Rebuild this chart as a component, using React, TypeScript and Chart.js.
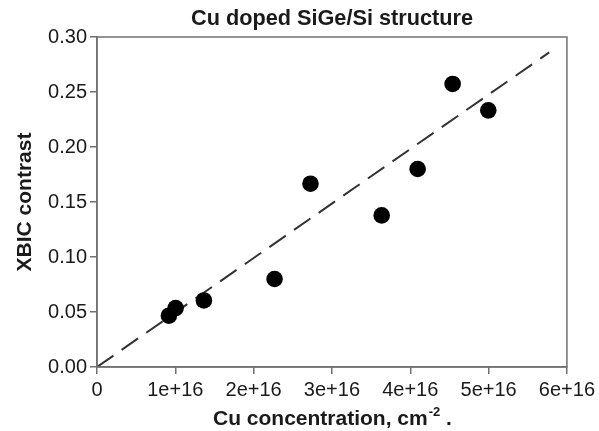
import React, { useEffect, useRef } from "react";
import { Chart, registerables } from "chart.js";

Chart.register(...registerables);

const titleText = "Cu doped SiGe/Si structure";
const yTitleText = "XBIC contrast";
const xTitleMain = "Cu concentration, cm";
const xTitleSup = "-2";
const xTitleEnd = " .";

const concentration = [0.918e16, 1.004e16, 1.365e16, 2.267e16, 2.726e16, 3.635e16, 4.094e16, 4.541e16, 4.996e16];
const contrast = [0.0466, 0.0536, 0.0605, 0.080, 0.1666, 0.1378, 0.180, 0.2573, 0.2333];

const fitX = [0, 5.774e16];
const fitY = [0, 0.286];

const xTicks = [0, 1e16, 2e16, 3e16, 4e16, 5e16, 6e16];
const xTickLabels = ["0", "1e+16", "2e+16", "3e+16", "4e+16", "5e+16", "6e+16"];
const yTickLabels = ["0.00", "0.05", "0.10", "0.15", "0.20", "0.25", "0.30"];

const FONT = "'Liberation Sans', Arial, Helvetica, sans-serif";
const AXIS_COLOR = "#707070";
const TEXT_COLOR = "#1a1a1a";

const decorPlugin = {
  id: "decor",
  afterDraw(chart: any) {
    const { ctx, chartArea } = chart;
    const cx = (chartArea.left + chartArea.right) / 2;
    ctx.save();
    // frame
    ctx.strokeStyle = AXIS_COLOR;
    ctx.lineWidth = 1.5;
    ctx.strokeRect(chartArea.left, chartArea.top, chartArea.right - chartArea.left, chartArea.bottom - chartArea.top);
    ctx.fillStyle = TEXT_COLOR;
    // main title
    ctx.font = `bold 21.7px ${FONT}`;
    ctx.textAlign = "center";
    ctx.textBaseline = "alphabetic";
    ctx.fillText(titleText, cx, 25);
    // x title with superscript
    const mainFont = `bold 21px ${FONT}`;
    const supFont = `bold 13px ${FONT}`;
    ctx.font = mainFont;
    const w1 = ctx.measureText(xTitleMain).width;
    const w3 = ctx.measureText(xTitleEnd).width;
    ctx.font = supFont;
    const w2 = ctx.measureText(xTitleSup).width;
    let x = cx - (w1 + w2 + w3) / 2;
    const base = 425;
    ctx.textAlign = "left";
    ctx.font = mainFont;
    ctx.fillText(xTitleMain, x, base);
    x += w1;
    ctx.font = supFont;
    ctx.fillText(xTitleSup, x + 1, base - 9);
    x += w2 + 1;
    ctx.font = mainFont;
    ctx.fillText(xTitleEnd, x, base);
    // y title
    ctx.translate(31, (chartArea.top + chartArea.bottom) / 2);
    ctx.rotate(-Math.PI / 2);
    ctx.textAlign = "center";
    ctx.font = mainFont;
    ctx.fillText(yTitleText, 0, 0);
    ctx.restore();
  },
};

export default function App() {
  const ref = useRef<HTMLCanvasElement>(null);
  useEffect(() => {
    document.body.style.margin = "0";
    const canvas = ref.current;
    if (!canvas) return;
    const chart = new Chart(canvas, {
      type: "scatter",
      data: {
        datasets: [
          {
            label: "data",
            data: concentration.map((c, i) => ({ x: c, y: contrast[i] })),
            backgroundColor: "#000000",
            borderColor: "#000000",
            pointRadius: 8.3,
            pointHoverRadius: 8.3,
            borderWidth: 0,
          },
          {
            label: "fit",
            type: "line",
            data: fitX.map((c, i) => ({ x: c, y: fitY[i] })),
            borderColor: "#333333",
            borderWidth: 2,
            borderDash: [20, 10],
            pointRadius: 0,
            fill: false,
          } as any,
        ],
      },
      options: {
        responsive: false,
        animation: false,
        events: [],
        layout: { padding: { top: 37, right: 31, left: 0, bottom: 0 } },
        plugins: {
          legend: { display: false },
          title: { display: false },
          tooltip: { enabled: false },
        },
        scales: {
          x: {
            type: "linear",
            min: 0,
            max: 6e16,
            afterBuildTicks: (scale: any) => {
              scale.ticks = xTicks.map((v) => ({ value: v }));
            },
            afterFit: (scale: any) => {
              scale.height = 64;
            },
            ticks: {
              autoSkip: false,
              maxRotation: 0,
              padding: 4,
              color: TEXT_COLOR,
              font: { family: FONT, size: 20 },
              callback: (v: any) => {
                const i = xTicks.indexOf(Number(v));
                return i >= 0 ? xTickLabels[i] : "";
              },
            },
            grid: {
              drawOnChartArea: false,
              drawTicks: true,
              tickLength: 7,
              color: AXIS_COLOR,
              lineWidth: 1.5,
            },
            border: { display: true, color: AXIS_COLOR, width: 1.5 },
          },
          y: {
            type: "linear",
            min: 0,
            max: 0.3,
            afterBuildTicks: (scale: any) => {
              scale.ticks = yTickLabels.map((t) => ({ value: parseFloat(t) }));
            },
            afterFit: (scale: any) => {
              scale.width = 97;
            },
            ticks: {
              autoSkip: false,
              padding: 3,
              color: TEXT_COLOR,
              font: { family: FONT, size: 20 },
              callback: (v: any) => {
                const i = yTickLabels.findIndex((t) => Math.abs(parseFloat(t) - Number(v)) < 1e-9);
                return i >= 0 ? yTickLabels[i] : "";
              },
            },
            grid: {
              drawOnChartArea: false,
              drawTicks: true,
              tickLength: 7,
              color: AXIS_COLOR,
              lineWidth: 1.5,
            },
            border: { display: true, color: AXIS_COLOR, width: 1.5 },
          },
        },
      },
      plugins: [decorPlugin],
    });
    return () => chart.destroy();
  }, []);
  return (
    <div style={{ width: 599, height: 431 }}>
      <canvas ref={ref} width={599} height={431} style={{ display: "block" }} />
    </div>
  );
}
